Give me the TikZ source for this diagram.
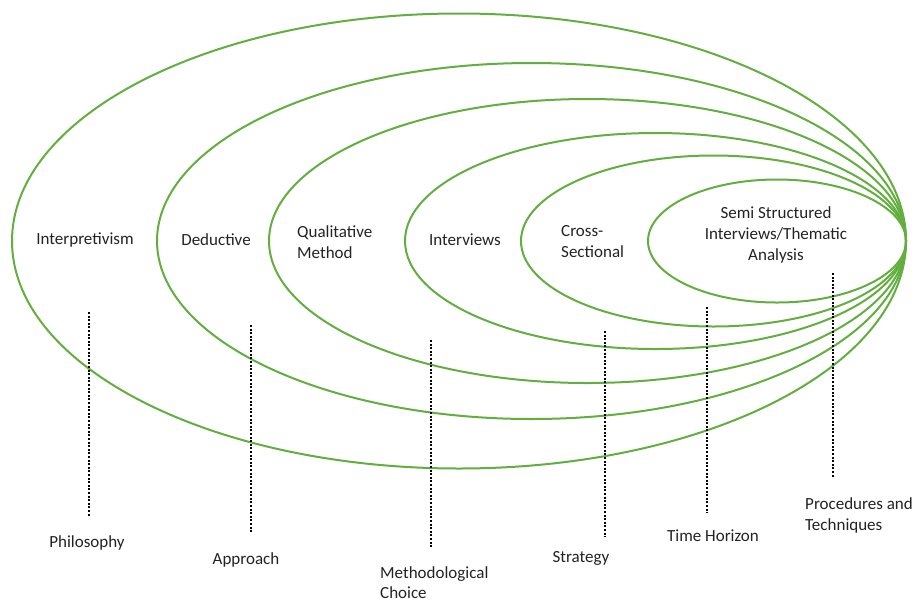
\documentclass[tikz,border=0pt]{standalone}
\usepackage{fontspec}
\setmainfont{Carlito}
\usepackage{xcolor}
\usetikzlibrary{positioning}
\definecolor{ringgreen}{RGB}{98,174,62}
\definecolor{labelgray}{RGB}{35,35,35}
\tikzset{
    ring/.style={draw=ringgreen, line width=2pt},
    guide/.style={draw=black, line width=2pt, dash pattern=on 2pt off 1.6pt}
}

\begin{document}
\begin{tikzpicture}[
    x=1pt, y=-1pt,
    layer/.style={font=\fontsize{17}{21}\selectfont, text=labelgray, inner sep=0pt},
    stage/.style={font=\fontsize{17}{21}\selectfont, text=labelgray, inner sep=0pt}
]
\useasboundingbox (0,0) rectangle (917,603);

% nested onion rings, all touching at the right
\foreach \rx/\ry in {447/227.5, 374.5/178, 318.5/142, 250.5/108, 192.5/85.5, 129/61.5} {
    \draw[ring] (906-\rx,241) ellipse [x radius=\rx, y radius=\ry];
}

% labels inside the rings
\node[layer] (interp) at (85,240) {Interpretivism};
\node[layer] (deduct) at (216,240) {Deductive};
\node[layer, align=left, anchor=west] (qualit) at (297,242) {Qualitative\\Method};
\node[layer] (interv) at (465,240) {Interviews};
\node[layer, align=left, anchor=west] (cross) at (561,242) {Cross-\\Sectional};
\node[layer, align=center] (semi) at (776,235) {Semi Structured\\Interviews/Thematic\\Analysis};

% stage names below
\node[stage] (philo) at (87,543) {Philosophy};
\node[stage] (appr) at (246,560) {Approach};
\node[stage, align=left, anchor=west, font=\fontsize{17}{20}\selectfont] (method) at (380,583) {Methodological\\Choice};
\node[stage] (strat) at (581,558) {Strategy};
\node[stage] (timeh) at (713,536) {Time Horizon};
\node[stage, align=left, anchor=west] (proc) at (805,515) {Procedures and\\Techniques};

% dotted guides
\foreach \name/\gx/\top/\bot in {philo/89/312/517, appr/251/325/532, method/431/340/547,
                                 strat/605/331/537, timeh/707/307/513, proc/833/273/478} {
    \coordinate (\name_top) at (\gx,\top);
    \coordinate (\name_bot) at (\gx,\bot);
    \draw[guide] (\name_top) -- (\name_bot);
}

\end{tikzpicture}
\end{document}
